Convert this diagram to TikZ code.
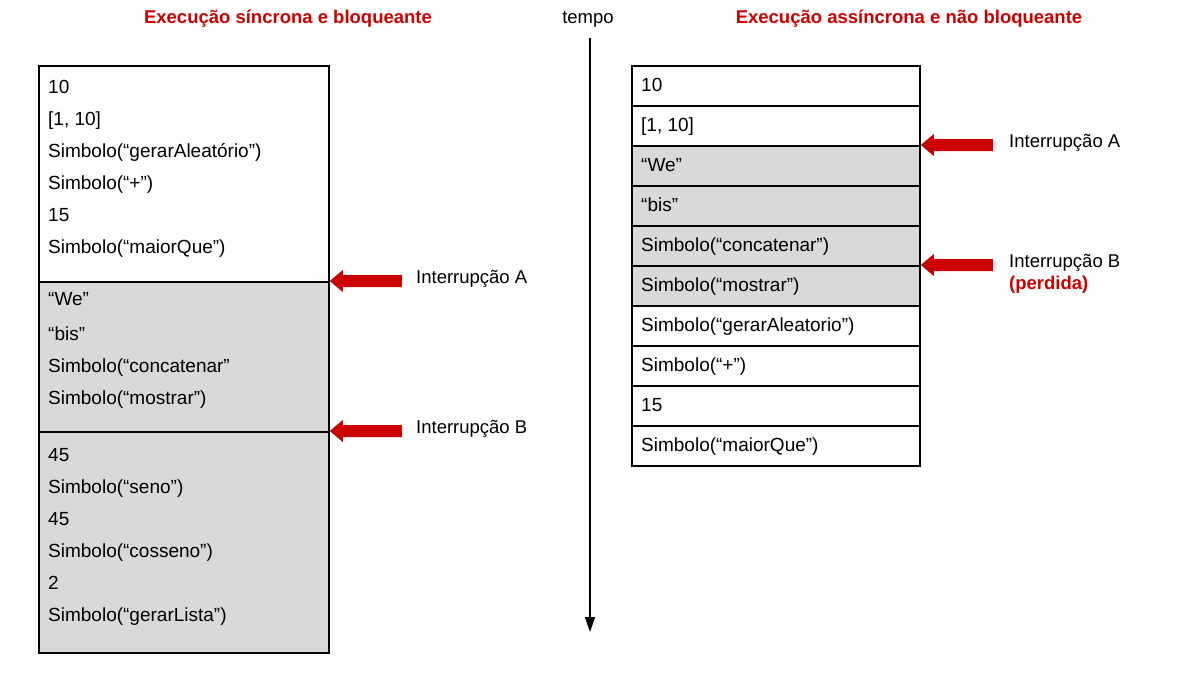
\documentclass[tikz,border=0pt]{standalone}
\usepackage{fontspec}
\setmainfont{Liberation Sans}
\usetikzlibrary{arrows.meta,calc}
\definecolor{arrred}{HTML}{CC0000}
\definecolor{shade}{HTML}{D9D9D9}
\tikzset{
  box/.style={draw=black, line width=1.8pt, anchor=north west, inner sep=0pt},
  whitebox/.style={box, fill=white},
  graybox/.style={box, fill=shade},
  row/.style={whitebox, minimum width=288pt, minimum height=40pt},
  grayrow/.style={graybox, minimum width=288pt, minimum height=40pt},
  txt/.style={anchor=west, inner sep=0pt, font=\fontsize{19}{22}\selectfont, text height=13.5pt, text depth=0pt},
  title/.style={inner sep=0pt, font=\fontsize{18.5}{22}\selectfont\bfseries, text=arrred},
  lbl/.style={anchor=west, inner sep=0pt, font=\fontsize{18.5}{22}\selectfont, text height=13.3pt, text depth=0pt},
  redarrow/.style={fill=arrred, draw=none},
}
\newcommand{\intarrow}[1]{%
  \fill[redarrow] (#1) -- ++(13,-11) -- ++(0,5) -- ++(59,0) -- ++(0,12) -- ++(-59,0) -- ++(0,5) -- cycle;}
\begin{document}
\begin{tikzpicture}[x=1pt, y=-1pt]
\useasboundingbox (0,0) rectangle (1204,689);
\fill[white] (0,0) rectangle (1204,689);

% titles
\node[title] (t1) at (288,19) {Execução síncrona e bloqueante};
\node[title] (t2) at (909,19) {Execução assíncrona e não bloqueante};
\node[inner sep=0pt, font=\fontsize{18.5}{22}\selectfont] (tempo) at (588,19) {tempo};

% time axis
\coordinate (ts) at (590,38);
\coordinate (te) at (590,632);
\draw[line width=1.6pt, -{Triangle[length=15pt,width=10pt]}] (ts) -- (te);

% left column boxes
\node[whitebox, minimum width=290pt, minimum height=216pt] (L1) at (38,65) {};
\node[graybox, minimum width=290pt, minimum height=150pt] (L2) at (38,281) {};
\node[graybox, minimum width=290pt, minimum height=221pt] (L3) at (38,431) {};

\node[txt] (l1) at (48,87) {10};
\node[txt] (l2) at (48,119) {[1, 10]};
\node[txt] (l3) at (48,151) {Simbolo(“gerarAleatório”)};
\node[txt] (l4) at (48,183) {Simbolo(“+”)};
\node[txt] (l5) at (48,215) {15};
\node[txt] (l6) at (48,247) {Simbolo(“maiorQue”)};
\node[txt] (l7) at (48,299) {“We”};
\node[txt] (l8) at (48,334) {“bis”};
\node[txt] (l9) at (48,366) {Simbolo(“concatenar”};
\node[txt] (l10) at (48,398) {Simbolo(“mostrar”)};
\node[txt] (l11) at (48,455) {45};
\node[txt] (l12) at (48,487) {Simbolo(“seno”)};
\node[txt] (l13) at (48,519) {45};
\node[txt] (l14) at (48,551) {Simbolo(“cosseno”)};
\node[txt] (l15) at (48,583) {2};
\node[txt] (l16) at (48,615) {Simbolo(“gerarLista”)};

% left arrows
\intarrow{L2.north east}
\intarrow{L3.north east}
\node[lbl] (ia) at (416,277) {Interrupção A};
\node[lbl] (ib) at (416,427) {Interrupção B};

% right column rows
\node[row] (R1) at (631,65) {};
\node[row] (R2) at (631,105) {};
\node[grayrow] (R3) at (631,145) {};
\node[grayrow] (R4) at (631,185) {};
\node[grayrow] (R5) at (631,225) {};
\node[grayrow] (R6) at (631,265) {};
\node[row] (R7) at (631,305) {};
\node[row] (R8) at (631,345) {};
\node[row] (R9) at (631,385) {};
\node[row] (R10) at (631,425) {};

\node[txt] (r1) at (641,85) {10};
\node[txt] (r2) at (641,125) {[1, 10]};
\node[txt] (r3) at (641,165) {“We”};
\node[txt] (r4) at (641,205) {“bis”};
\node[txt] (r5) at (641,245) {Simbolo(“concatenar”)};
\node[txt] (r6) at (641,285) {Simbolo(“mostrar”)};
\node[txt] (r7) at (641,325) {Simbolo(“gerarAleatorio”)};
\node[txt] (r8) at (641,365) {Simbolo(“+”)};
\node[txt] (r9) at (641,405) {15};
\node[txt] (r10) at (641,445) {Simbolo(“maiorQue”)};

% right arrows
\intarrow{R3.north east}
\intarrow{R6.north east}
\node[lbl] (ra) at (1009,141) {Interrupção A};
\node[lbl] (rb) at (1009,261) {Interrupção B};
\node[lbl, font=\fontsize{18.5}{22}\selectfont\bfseries, text=arrred] (rp) at (1009,283) {(perdida)};
\end{tikzpicture}
\end{document}
